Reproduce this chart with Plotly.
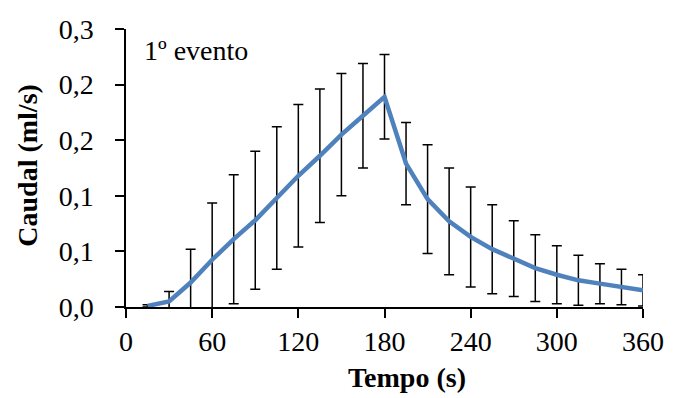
import plotly.graph_objects as go

tempo = [15, 30, 45, 60, 75, 90, 105, 120, 135, 150, 165, 180,
         195, 210, 225, 240, 255, 270, 285, 300, 315, 330, 345, 360]
caudal = [0.001, 0.005, 0.022, 0.0425, 0.061, 0.078, 0.098, 0.118, 0.136, 0.155, 0.172, 0.189,
          0.129, 0.097, 0.077, 0.063, 0.052, 0.0435, 0.035, 0.029, 0.024, 0.021, 0.018, 0.015]
erro = [0.001, 0.009, 0.030, 0.051, 0.058, 0.062, 0.064, 0.064, 0.060, 0.055, 0.047, 0.038,
        0.037, 0.049, 0.048, 0.045, 0.040, 0.034, 0.030, 0.026, 0.0225, 0.018, 0.016, 0.014]

y_ticks = [0, 0.05, 0.10, 0.15, 0.20, 0.25]
y_labels = ["0,0", "0,1", "0,1", "0,2", "0,2", "0,3"]
x_ticks = [0, 60, 120, 180, 240, 300, 360]

FONT = "serif"

fig = go.Figure()
fig.add_trace(go.Scatter(
    x=tempo, y=caudal, mode="lines",
    line=dict(color="#4F81BD", width=4.5),
    error_y=dict(type="data", array=erro, visible=True,
                 color="black", thickness=1.5, width=5),
    showlegend=False,
))

fig.update_layout(
    width=676, height=398,
    margin=dict(l=126, r=28, t=29, b=91),
    paper_bgcolor="white", plot_bgcolor="white",
    font=dict(family=FONT, size=28, color="black"),
    xaxis=dict(range=[0, 360], tickvals=x_ticks, showgrid=False, zeroline=False,
               showline=True, linecolor="black", linewidth=1.5,
               ticks="outside", ticklen=9, tickwidth=1.5, tickcolor="black",
               tickfont=dict(family=FONT, size=28)),
    yaxis=dict(range=[0, 0.25], tickvals=y_ticks, ticktext=y_labels, showgrid=False,
               zeroline=False, showline=True, linecolor="black", linewidth=1.5,
               ticks="outside", ticklen=9, tickwidth=1.5, tickcolor="black",
               ticklabelstandoff=16,
               tickfont=dict(family=FONT, size=28)),
    annotations=[
        dict(text="1º evento", xref="paper", yref="paper", x=0.031, y=0.924,
             xanchor="left", yanchor="middle", showarrow=False,
             font=dict(family=FONT, size=28)),
        dict(text="<b>Tempo (s)</b>", xref="paper", yref="paper", x=0.544, y=-0.254,
             xanchor="center", yanchor="middle", showarrow=False,
             font=dict(family=FONT, size=28)),
        dict(text="<b>Caudal (ml/s)</b>", xref="paper", yref="paper", x=-0.19, y=0.511,
             xanchor="center", yanchor="middle", showarrow=False, textangle=-90,
             font=dict(family=FONT, size=28)),
    ],
)

fig.write_html("out.html")
